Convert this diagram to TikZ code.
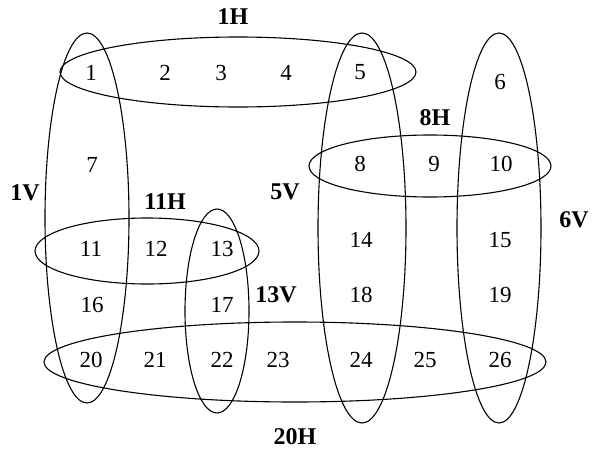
\documentclass[tikz,border=0pt]{standalone}
\usepackage{fontspec}
\setmainfont{Liberation Serif}
\usetikzlibrary{shapes.geometric}
\begin{document}
\begin{tikzpicture}[x=1pt,y=-1pt,
  num/.style={font=\fontsize{23}{23}\selectfont, inner sep=0pt},
  lab/.style={font=\fontsize{24}{24}\selectfont\bfseries, inner sep=0pt},
  set/.style={draw, ellipse, line width=1.1pt, inner sep=0pt}]
\useasboundingbox (0,0) rectangle (592,450);
% sets
\node[set, minimum width=356pt, minimum height=70pt] (s1H) at (238,72) {};
\node[set, minimum width=84pt, minimum height=370pt] (s1V) at (87,218) {};
\node[set, minimum width=88pt, minimum height=390pt] (s5V) at (362,228) {};
\node[set, minimum width=84pt, minimum height=390pt] (s6V) at (499,228) {};
\node[set, minimum width=242pt, minimum height=62pt] (s8H) at (430,166) {};
\node[set, minimum width=224pt, minimum height=66pt] (s11H) at (147,251) {};
\node[set, minimum width=64pt, minimum height=204pt] (s13V) at (217,311) {};
\node[set, minimum width=502pt, minimum height=80pt] (s20H) at (295,362) {};
% labels
\node[lab] (l1H) at (233,17) {1H};
\node[lab] (l1V) at (25,193) {1V};
\node[lab] (l5V) at (285,192) {5V};
\node[lab] (l6V) at (574,220) {6V};
\node[lab] (l8H) at (435,118) {8H};
\node[lab] (l11H) at (165,202) {11H};
\node[lab] (l13V) at (276,295) {13V};
\node[lab] (l20H) at (295,437) {20H};
% numbers
\node[num] (n1) at (91,73) {1};
\node[num] (n2) at (165,73) {2};
\node[num] (n3) at (221,73) {3};
\node[num] (n4) at (286,73) {4};
\node[num] (n5) at (360,72) {5};
\node[num] (n6) at (500,82) {6};
\node[num] (n7) at (92,165) {7};
\node[num] (n8) at (360,164) {8};
\node[num] (n9) at (434,164) {9};
\node[num] (n10) at (501,164) {10};
\node[num] (n11) at (91,249) {11};
\node[num] (n12) at (156,249) {12};
\node[num] (n13) at (222,249) {13};
\node[num] (n14) at (361,240) {14};
\node[num] (n15) at (500,240) {15};
\node[num] (n16) at (92,305) {16};
\node[num] (n17) at (222,305) {17};
\node[num] (n18) at (361,295) {18};
\node[num] (n19) at (500,295) {19};
\node[num] (n20) at (91,360) {20};
\node[num] (n21) at (155,360) {21};
\node[num] (n22) at (222,360) {22};
\node[num] (n23) at (278,360) {23};
\node[num] (n24) at (361,360) {24};
\node[num] (n25) at (425,360) {25};
\node[num] (n26) at (500,360) {26};
\end{tikzpicture}
\end{document}
